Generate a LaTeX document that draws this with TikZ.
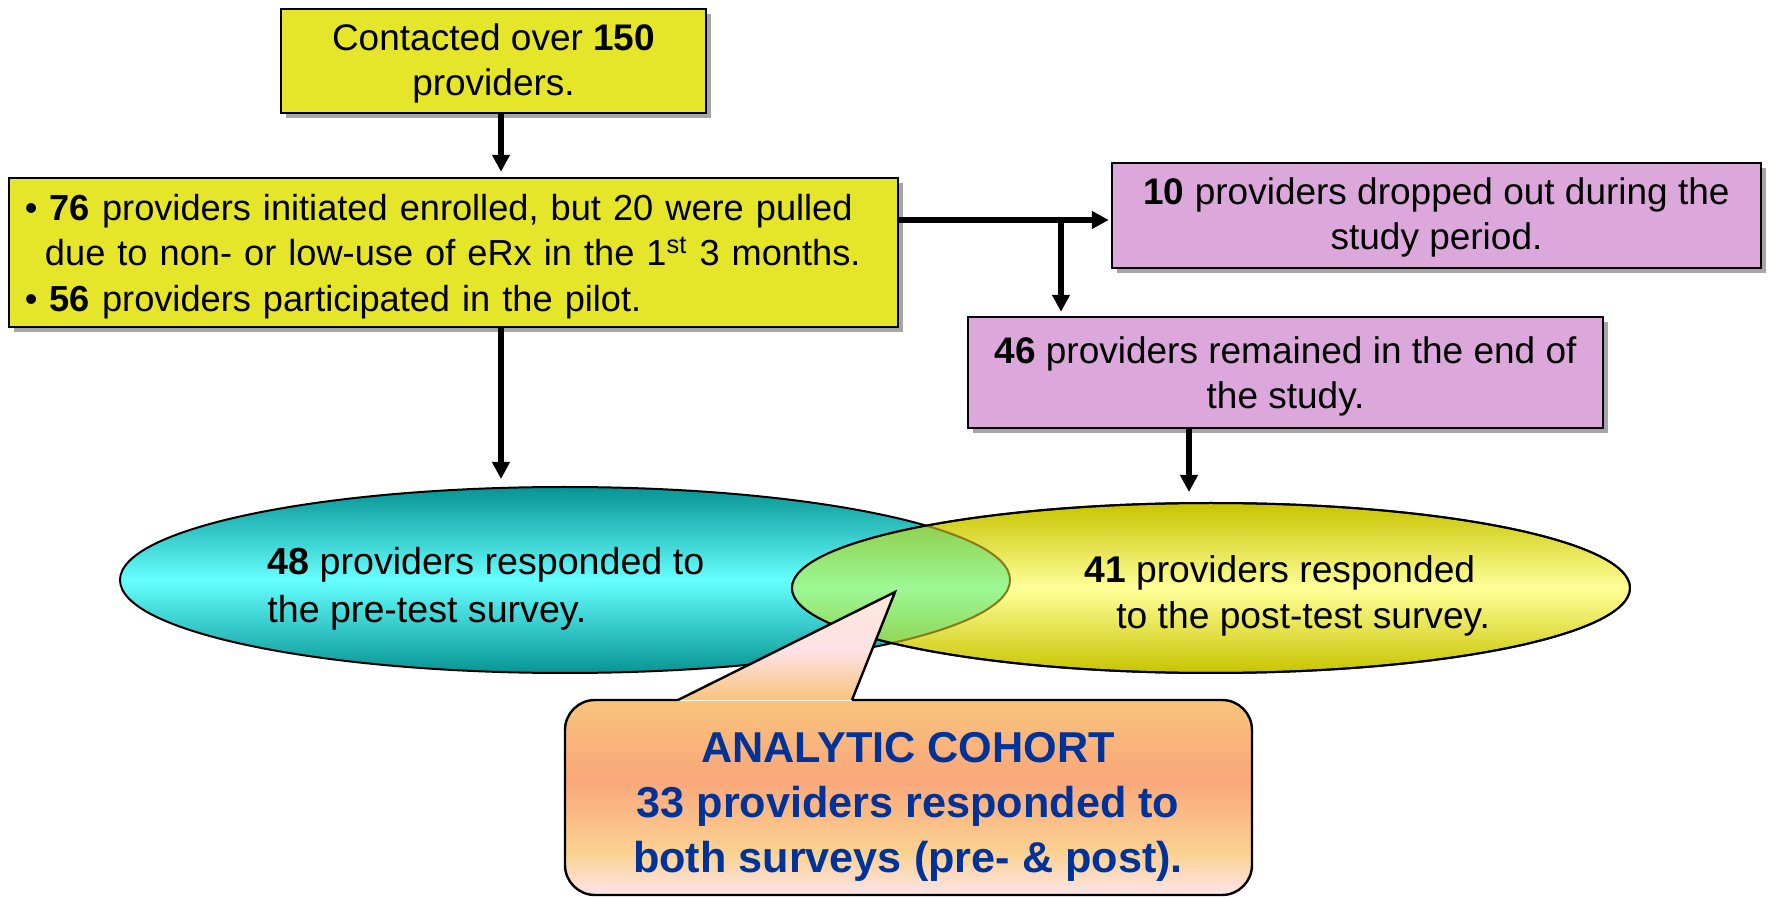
\documentclass[tikz,border=0pt]{standalone}
\usepackage{fontspec}
\setmainfont{Liberation Sans}
\usetikzlibrary{arrows.meta,shadows,shapes.geometric,calc}
\definecolor{byellow}{HTML}{E5E52A}
\definecolor{bpurple}{HTML}{DCA8DC}
\definecolor{cyTop}{HTML}{079494}
\definecolor{cyMid}{HTML}{66FFFF}
\definecolor{yeTop}{HTML}{C8C400}
\definecolor{yeMid}{HTML}{FFFF99}
\definecolor{grTop}{HTML}{8CC43A}
\definecolor{grMid}{HTML}{9CF894}
\definecolor{olivel}{HTML}{8A7A12}
\definecolor{cblue}{HTML}{003399}
\definecolor{kA}{HTML}{FDE4EA}
\definecolor{kB}{HTML}{FBD292}
\definecolor{kC}{HTML}{F9A77A}
\definecolor{kD}{HTML}{F9C47C}
\definecolor{kE}{HTML}{FDE1E6}
\definecolor{kF}{HTML}{FCE8D8}
\pgfdeclareverticalshading{calloutshade}{100bp}{color(0bp)=(kA); color(25bp)=(kA); color(31.9bp)=(kB); color(44bp)=(kC); color(57.2bp)=(kD); color(65.4bp)=(kE); color(75bp)=(kF); color(100bp)=(kF)}
\newcommand{\topgap}[1]{\rule{0pt}{#1}}
\begin{document}
\begin{tikzpicture}[x=0.5pt,y=-0.5pt,
  txt/.style={font=\fontsize{18.5pt}{22.5pt}\selectfont},
  box/.style={draw=black, line width=1.2pt, inner sep=0pt, txt, align=center,
    drop shadow={shadow xshift=2.5pt, shadow yshift=-2.5pt, fill=black!50, opacity=0.7}},
  arr/.style={line width=2.6pt, -{Triangle[length=8.5pt,width=8.5pt]}},
  ell/.style={ellipse, draw=black, line width=1pt, inner sep=0pt}]
\useasboundingbox (0,0) rectangle (1769,898);

% boxes
\node[box, fill=byellow, minimum width=212.5pt, minimum height=52pt] (top) at (493.5,61)
  {\topgap{0.85em}Contacted over \textbf{150}\\providers.};
\node[box, fill=byellow, minimum width=444.5pt, minimum height=74.5pt, align=left, text width=428.5pt,
  font=\fontsize{18.1pt}{22.7pt}\selectfont] (enrol) at (453.5,252.5)
  {\topgap{0.95em}\textbullet\ \textbf{76} providers initiated enrolled, but 20 were pulled\\
   \hspace*{10pt}due to non- or low-use of eRx in the 1\textsuperscript{st} 3 months.\\
   \textbullet\ \textbf{56} providers participated in the pilot.};
\node[box, fill=bpurple, minimum width=324.5pt, minimum height=52.5pt] (drop) at (1436.5,215.5)
  {\topgap{0.85em}\textbf{10} providers dropped out during the\\study period.};
\node[box, fill=bpurple, minimum width=317.5pt, minimum height=55.5pt] (remain) at (1285.5,372.5)
  {\topgap{0.95em}\textbf{46} providers remained in the end of\\the study.};

% ellipses
\node[ell, minimum width=445pt, minimum height=93pt, top color=cyTop, bottom color=cyTop, middle color=cyMid] (pre) at (565,580) {};
\node[ell, minimum width=419pt, minimum height=85pt, top color=yeTop, bottom color=yeTop, middle color=yeMid] (post) at (1211,588) {};
\begin{scope}
  \clip (565,580) ellipse [x radius=222.5pt, y radius=46.5pt];
  \shade[top color=grTop, bottom color=grTop, middle color=grMid] (1211,588) ellipse [x radius=209.5pt, y radius=42.5pt];
\end{scope}
\begin{scope}
  \clip (1211,588) ellipse [x radius=209.5pt, y radius=42.5pt];
  \draw[olivel, line width=1pt] (565,580) ellipse [x radius=222.5pt, y radius=46.5pt];
\end{scope}
\draw[line width=1pt] (1211,588) ellipse [x radius=209.5pt, y radius=42.5pt];

\node[font=\fontsize{18.8pt}{24pt}\selectfont, align=left, anchor=west, inner sep=0pt] (pretxt) at (267,589)
  {\textbf{48} providers responded to\\the pre-test survey.};
\node[font=\fontsize{18.6pt}{23pt}\selectfont, align=left, anchor=west, inner sep=0pt] (posttxt) at (1084,596)
  {\textbf{41} providers responded\\\hspace*{16pt}to the post-test survey.};

% callout
\shade[shading=calloutshade, rounded corners=15pt] (565,700) rectangle (1252,895)
  [sharp corners] (678,701) -- (895,592) -- (852,701) -- cycle;
\draw[line width=1.2pt, rounded corners=15pt] (852,700) -- (1252,700) -- (1252,895) -- (565,895) -- (565,700) -- (678,700);
\draw[line width=1.2pt, line join=miter] (678,700) -- (895,592) -- (852,700);
\node[font=\fontsize{21.6pt}{27.5pt}\selectfont\bfseries, text=cblue, align=center] (cohort) at (908,807)
  {ANALYTIC COHORT\\33 providers responded to\\both surveys (pre- \& post).};

% connectors
\coordinate (xa) at (501,0);
\coordinate (ya) at (0,220);
\coordinate (xb) at (1061,220);
\coordinate (xc) at (1189,0);
\draw[arr, shorten >=2.5pt] (top.south -| xa) -- (enrol.north -| xa);
\draw[arr, shorten >=1pt] (enrol.east |- ya) -- (drop.west |- ya);
\draw[arr, shorten >=2pt] (xb) -- (remain.north -| xb);
\draw[arr, shorten >=3.5pt] (enrol.south -| xa) -- (pre.north -| xa);
\draw[arr, shorten >=5pt] (remain.south -| xc) -- (post.north -| xc);
\end{tikzpicture}
\end{document}
